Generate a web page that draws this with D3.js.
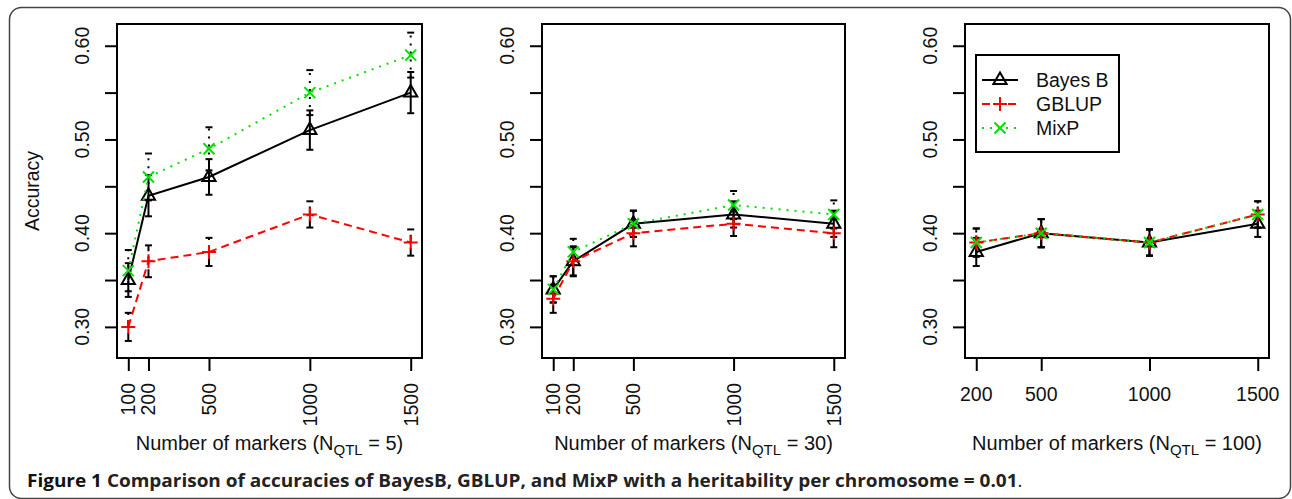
<!doctype html>
<html lang="en">
  <head>
    <meta charset="utf-8">
    <title>Figure 1</title>
    <style>
      body { margin: 0; background: #fff; }
      text { font-family: "Liberation Sans", Arial, sans-serif; fill: #111; }
      .caption { font-family: "Open Sans", sans-serif; }
    </style>
  </head>
  <body>
    <div id="chart"></div>

    <script src="https://d3js.org/d3.v7.min.js"></script>
    <script>
      // Data
      var markersA = [100, 200, 500, 1000, 1500];
      var markersB = [200, 500, 1000, 1500];
      var qtlLabels = ["5", "30", "100"];
      var yTicks = [0.30, 0.35, 0.40, 0.45, 0.50, 0.55, 0.60];
      var yLabels = [0.30, 0.40, 0.50, 0.60];
      var methods = ["Bayes B", "GBLUP", "MixP"];

      var bayes5 = [0.35, 0.44, 0.46, 0.51, 0.55];
      var bayes5Se = [0.018, 0.022, 0.019, 0.021, 0.022];
      var gblup5 = [0.30, 0.37, 0.38, 0.42, 0.39];
      var gblup5Se = [0.015, 0.017, 0.015, 0.014, 0.014];
      var mixp5 = [0.36, 0.46, 0.49, 0.55, 0.59];
      var mixp5Se = [0.022, 0.025, 0.023, 0.024, 0.024];

      var bayes30 = [0.34, 0.37, 0.41, 0.42, 0.41];
      var bayes30Se = [0.014, 0.016, 0.014, 0.014, 0.014];
      var gblup30 = [0.33, 0.37, 0.40, 0.41, 0.40];
      var gblup30Se = [0.015, 0.015, 0.014, 0.013, 0.015];
      var mixp30 = [0.34, 0.38, 0.41, 0.43, 0.42];
      var mixp30Se = [0.014, 0.014, 0.014, 0.015, 0.015];

      var bayes100 = [0.38, 0.40, 0.39, 0.41];
      var bayes100Se = [0.015, 0.015, 0.014, 0.014];
      var gblup100 = [0.39, 0.40, 0.39, 0.42];
      var gblup100Se = [0.015, 0.015, 0.014, 0.014];
      var mixp100 = [0.39, 0.40, 0.39, 0.42];
      var mixp100Se = [0.015, 0.015, 0.014, 0.014];

      // Styles per method
      var colors = ["#000000", "#ff0000", "#00e000"];
      var dashes = [null, "8,5", "2,6"];

      var W = 1292, H = 499;
      var svg = d3.select("#chart").append("svg")
        .attr("width", W)
        .attr("height", H);

      // Outer rounded frame
      svg.append("rect")
        .attr("x", 9.5).attr("y", 7.5)
        .attr("width", 1281).attr("height", 491)
        .attr("rx", 12)
        .attr("fill", "none")
        .attr("stroke", "#444")
        .attr("stroke-width", 1.5);

      var panels = [
        {left: 117, right: 422, markers: markersA, rotate: true, qtl: qtlLabels[0],
         series: [[bayes5, bayes5Se], [gblup5, gblup5Se], [mixp5, mixp5Se]], ylab: true},
        {left: 542, right: 845, markers: markersA, rotate: true, qtl: qtlLabels[1],
         series: [[bayes30, bayes30Se], [gblup30, gblup30Se], [mixp30, mixp30Se]]},
        {left: 965, right: 1269, markers: markersB, rotate: false, qtl: qtlLabels[2],
         series: [[bayes100, bayes100Se], [gblup100, gblup100Se], [mixp100, mixp100Se]], legend: true}
      ];

      var plotTop = 24, plotBottom = 358;
      var y = d3.scaleLinear().domain([0.2668, 0.6232]).range([plotBottom, plotTop]);

      function drawMarker(g, i, cx, cy) {
        var m = g.append("g").attr("transform", "translate(" + cx + "," + cy + ")")
          .attr("fill", "none").attr("stroke", colors[i]).attr("stroke-width", 2);
        if (i == 0) {
          m.append("path").attr("d", "M0,-7.5L6.6,4L-6.6,4Z");
        } else if (i == 1) {
          m.append("path").attr("d", "M-7,0H7M0,-7V7");
        } else {
          m.append("path").attr("d", "M-5.5,-5.5L5.5,5.5M-5.5,5.5L5.5,-5.5");
        }
      }

      panels.forEach(function(p) {
        var lo = d3.min(p.markers), hi = d3.max(p.markers), pad = (hi - lo) * 0.04;
        var x = d3.scaleLinear().domain([lo - pad, hi + pad]).range([p.left, p.right]);
        var g = svg.append("g");

        // Error bars
        p.series.forEach(function(s, i) {
          p.markers.forEach(function(m, j) {
            var bar = g.append("g")
              .attr("stroke", "#000").attr("stroke-width", 2);
            bar.append("line")
              .attr("x1", x(m)).attr("x2", x(m))
              .attr("y1", y(s[0][j] - s[1][j])).attr("y2", y(s[0][j] + s[1][j]))
              .attr("stroke-dasharray", dashes[i]);
            [s[0][j] - s[1][j], s[0][j] + s[1][j]].forEach(function(v) {
              bar.append("line")
                .attr("x1", x(m) - 3.5).attr("x2", x(m) + 3.5)
                .attr("y1", y(v)).attr("y2", y(v));
            });
          });
        });

        // Lines and points
        p.series.forEach(function(s, i) {
          var line = d3.line()
            .x(function(d, j) { return x(p.markers[j]); })
            .y(function(d) { return y(d); });
          g.append("path")
            .attr("d", line(s[0]))
            .attr("fill", "none")
            .attr("stroke", colors[i])
            .attr("stroke-width", 2)
            .attr("stroke-dasharray", dashes[i]);
          s[0].forEach(function(v, j) { drawMarker(g, i, x(p.markers[j]), y(v)); });
        });

        // Box
        g.append("rect")
          .attr("x", p.left).attr("y", plotTop)
          .attr("width", p.right - p.left).attr("height", plotBottom - plotTop)
          .attr("fill", "none").attr("stroke", "#000").attr("stroke-width", 2);

        // Y axis
        var yAxis = g.append("g")
          .attr("transform", "translate(" + p.left + ",0)")
          .call(d3.axisLeft(y).tickValues(yTicks).tickSize(12).tickFormat(""));
        yAxis.select(".domain").remove();
        yAxis.selectAll("line").attr("stroke-width", 2);
        yLabels.forEach(function(v) {
          g.append("text")
            .attr("transform", "translate(" + (p.left - 28) + "," + y(v) + ") rotate(-90)")
            .attr("text-anchor", "middle")
            .attr("font-size", "19.5px")
            .text(v.toFixed(2));
        });

        // X axis
        var xAxis = g.append("g")
          .attr("transform", "translate(0," + plotBottom + ")")
          .call(d3.axisBottom(x).tickValues(p.markers).tickSize(13).tickFormat(""));
        xAxis.select(".domain").remove();
        xAxis.selectAll("line").attr("stroke-width", 2);
        p.markers.forEach(function(m) {
          if (p.rotate) {
            g.append("text")
              .attr("transform", "translate(" + (x(m) + 7) + ",383) rotate(-90)")
              .attr("text-anchor", "end")
              .attr("font-size", "19.5px")
              .text(m);
          } else {
            g.append("text")
              .attr("x", x(m)).attr("y", 401)
              .attr("text-anchor", "middle")
              .attr("font-size", "19.5px")
              .text(m);
          }
        });

        // X label with subscript
        var xl = g.append("text")
          .attr("x", (p.left + p.right) / 2).attr("y", 450)
          .attr("text-anchor", "middle")
          .attr("font-size", "20px");
        xl.append("tspan").text("Number of markers (N");
        xl.append("tspan").attr("font-size", "15px").attr("dy", 5).text("QTL");
        xl.append("tspan").attr("dy", -5).text(" = " + p.qtl + ")");

        if (p.ylab) {
          g.append("text")
            .attr("transform", "translate(39," + (plotTop + plotBottom) / 2 + ") rotate(-90)")
            .attr("text-anchor", "middle")
            .attr("font-size", "19.5px")
            .text("Accuracy");
        }

        if (p.legend) {
          var lg = g.append("g");
          lg.append("rect")
            .attr("x", 976).attr("y", 55).attr("width", 143).attr("height", 97)
            .attr("fill", "#fff").attr("stroke", "#000").attr("stroke-width", 2);
          methods.forEach(function(name, i) {
            var ly = 80 + i * 24;
            lg.append("line")
              .attr("x1", 982).attr("x2", 1018).attr("y1", ly).attr("y2", ly)
              .attr("stroke", colors[i]).attr("stroke-width", 2)
              .attr("stroke-dasharray", dashes[i]);
            drawMarker(lg, i, 1000, ly);
            lg.append("text")
              .attr("x", 1036).attr("y", ly + 7)
              .attr("font-size", "19.5px")
              .text(name);
          });
        }
      });

      // Caption
      var cap = svg.append("text")
        .attr("class", "caption")
        .attr("x", 0).attr("y", 0)
        .attr("font-size", "18px")
        .attr("font-weight", "bold");
      cap.append("tspan").attr("fill", "#111").text("Figure 1 ");
      cap.append("tspan").attr("fill", "#222")
        .text("Comparison of accuracies of BayesB, GBLUP, and MixP with a heritability per chromosome = 0.01");
      cap.append("tspan").attr("font-weight", "normal").attr("fill", "#222").text(".");
      var capW = cap.node().getComputedTextLength();
      cap.attr("transform", "translate(27,486.5) scale(" + (996 / capW) + ",1)");
    </script>
  </body>
</html>
